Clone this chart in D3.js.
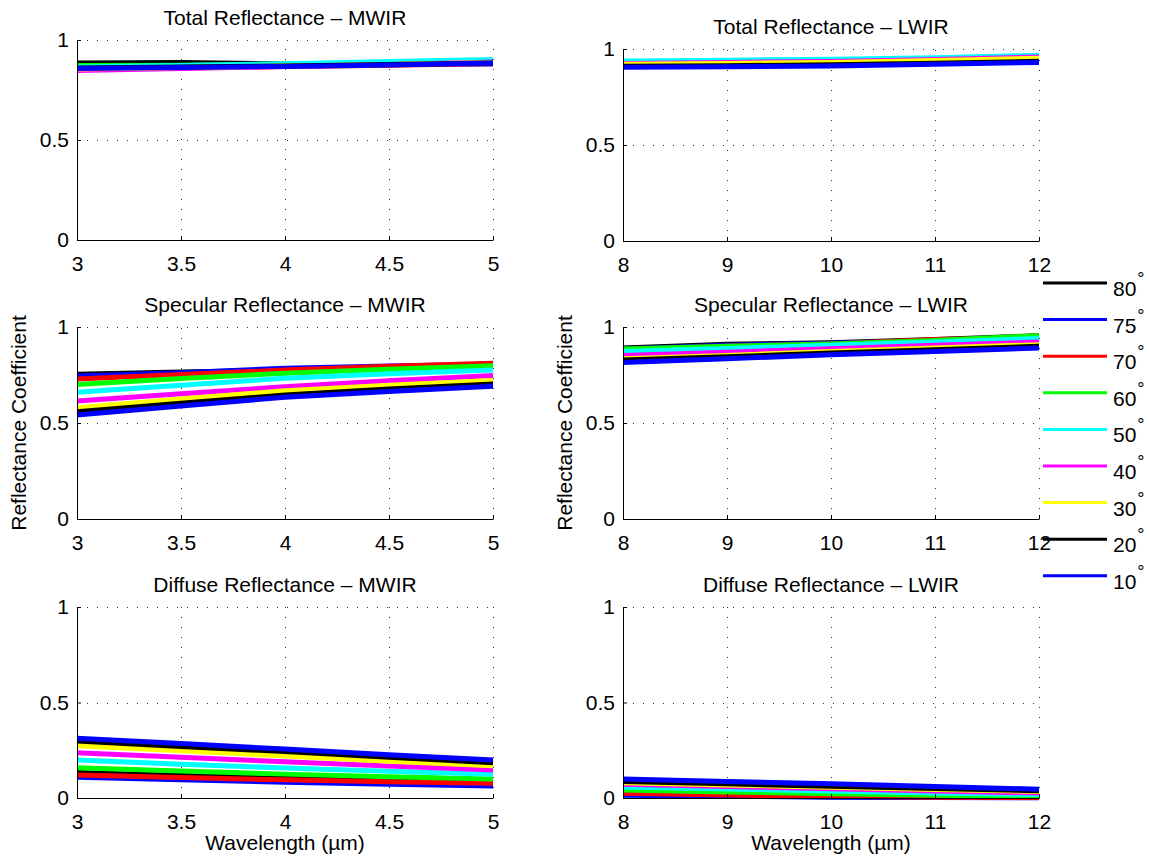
<!DOCTYPE html>
<html><head><meta charset="utf-8">
<script src="https://cdn.jsdelivr.net/npm/d3@7"></script>
<style>
body{margin:0;background:#fff;}
text{font-family:"Liberation Sans",Arial,Helvetica,sans-serif;fill:#000;}
</style>
</head><body>
<svg id="c" width="1149" height="860"></svg>
<script>
// ---------------- data ----------------
const angles = ["80", "75", "70", "60", "50", "40", "30", "20", "10"];
const seriesColors = ["#000000", "#0000ff", "#ff0000", "#00ff00", "#00ffff", "#ff00ff", "#ffff00", "#000000", "#0000ff"];

const mwirWavelength = [3, 3.5, 4, 4.5, 5];
const lwirWavelength = [8, 9, 10, 11, 12];
const mwirTicks = [3, 3.5, 4, 4.5, 5];
const lwirTicks = [8, 9, 10, 11, 12];
const reflTicks = [0, 0.5, 1];

const panelTitles = [
  "Total Reflectance \u2013 MWIR", "Total Reflectance \u2013 LWIR",
  "Specular Reflectance \u2013 MWIR", "Specular Reflectance \u2013 LWIR",
  "Diffuse Reflectance \u2013 MWIR", "Diffuse Reflectance \u2013 LWIR"
];
const xLabel = "Wavelength (\u00b5m)";
const yLabel = "Reflectance Coefficient";

// each row: one series per angle (80,75,70,60,50,40,30,20,10)
const totalMWIR = [
  [0.885, 0.887, 0.880, 0.885, 0.888],
  [0.865, 0.868, 0.873, 0.878, 0.880],
  [0.855, 0.860, 0.868, 0.874, 0.882],
  [0.872, 0.874, 0.879, 0.886, 0.895],
  [0.865, 0.872, 0.881, 0.892, 0.903],
  [0.848, 0.858, 0.868, 0.878, 0.890],
  [0.855, 0.862, 0.870, 0.878, 0.887],
  [0.860, 0.865, 0.870, 0.877, 0.885],
  [0.857, 0.862, 0.868, 0.875, 0.885]
];
const totalLWIR = [
  [0.925, 0.930, 0.935, 0.945, 0.955],
  [0.915, 0.918, 0.922, 0.930, 0.940],
  [0.912, 0.915, 0.918, 0.925, 0.935],
  [0.930, 0.933, 0.938, 0.947, 0.957],
  [0.938, 0.942, 0.947, 0.955, 0.967],
  [0.925, 0.930, 0.935, 0.945, 0.958],
  [0.920, 0.925, 0.930, 0.940, 0.952],
  [0.910, 0.913, 0.918, 0.926, 0.936],
  [0.905, 0.908, 0.912, 0.920, 0.930]
];
const specularMWIR = [
  [0.754, 0.765, 0.775, 0.790, 0.800],
  [0.745, 0.762, 0.785, 0.797, 0.806],
  [0.729, 0.752, 0.776, 0.795, 0.811],
  [0.701, 0.732, 0.759, 0.780, 0.798],
  [0.660, 0.697, 0.733, 0.756, 0.776],
  [0.614, 0.652, 0.689, 0.720, 0.747],
  [0.580, 0.625, 0.668, 0.697, 0.722],
  [0.559, 0.603, 0.646, 0.677, 0.703],
  [0.542, 0.589, 0.634, 0.664, 0.691]
];
const specularLWIR = [
  [0.890, 0.910, 0.918, 0.935, 0.955],
  [0.885, 0.905, 0.915, 0.930, 0.950],
  [0.880, 0.900, 0.912, 0.935, 0.945],
  [0.885, 0.900, 0.912, 0.930, 0.955],
  [0.872, 0.888, 0.905, 0.922, 0.940],
  [0.852, 0.868, 0.887, 0.905, 0.922],
  [0.835, 0.852, 0.872, 0.890, 0.908],
  [0.828, 0.845, 0.865, 0.882, 0.900],
  [0.815, 0.835, 0.855, 0.873, 0.890]
];
const diffuseMWIR = [
  [0.133, 0.118, 0.105, 0.094, 0.085],
  [0.108, 0.095, 0.083, 0.072, 0.063],
  [0.120, 0.107, 0.095, 0.085, 0.077],
  [0.159, 0.142, 0.125, 0.111, 0.099],
  [0.199, 0.177, 0.157, 0.140, 0.124],
  [0.237, 0.213, 0.190, 0.168, 0.147],
  [0.274, 0.248, 0.220, 0.193, 0.169],
  [0.298, 0.270, 0.243, 0.213, 0.185],
  [0.313, 0.285, 0.256, 0.226, 0.199]
];
const diffuseLWIR = [
  [0.020, 0.012, 0.006, 0.003, 0.002],
  [0.015, 0.009, 0.004, 0.002, 0.001],
  [0.025, 0.016, 0.009, 0.004, 0.002],
  [0.042, 0.032, 0.022, 0.014, 0.008],
  [0.058, 0.047, 0.036, 0.026, 0.018],
  [0.072, 0.060, 0.048, 0.036, 0.026],
  [0.080, 0.068, 0.056, 0.045, 0.034],
  [0.086, 0.074, 0.062, 0.050, 0.038],
  [0.099, 0.087, 0.074, 0.060, 0.046]
];

// ---------------- layout ----------------
const FONT = 21;
const svg = d3.select("#c");
svg.append("rect").attr("width", 1149).attr("height", 860).attr("fill", "#fff");

const colDefs = [
  {x0: 77, x1: 493, domain: [3, 5], ticks: mwirTicks, wl: mwirWavelength},
  {x0: 623, x1: 1039, domain: [8, 12], ticks: lwirTicks, wl: lwirWavelength}
];
const rowDefs = [
  [{y0: 40, y1: 240}, {y0: 49, y1: 241}],
  [{y0: 327, y1: 519}, {y0: 327, y1: 519}],
  [{y0: 607, y1: 798}, {y0: 607, y1: 798}]
];
const panelData = [[totalMWIR, totalLWIR], [specularMWIR, specularLWIR], [diffuseMWIR, diffuseLWIR]];

rowDefs.forEach((row, r) => {
  row.forEach((box, c) => {
    const col = colDefs[c];
    const x = d3.scaleLinear().domain(col.domain).range([col.x0, col.x1]);
    const y = d3.scaleLinear().domain([0, 1]).range([box.y1, box.y0]);
    const g = svg.append("g");

    // grid (dotted)
    const grid = g.append("g").attr("stroke", "#333").attr("stroke-width", 1)
      .attr("stroke-dasharray", "1,9").attr("shape-rendering", "crispEdges");
    col.ticks.forEach(t => {
      grid.append("line").attr("x1", Math.round(x(t)) + 0.5).attr("x2", Math.round(x(t)) + 0.5)
        .attr("y1", box.y1).attr("y2", box.y0);
    });
    reflTicks.forEach(t => {
      grid.append("line").attr("y1", Math.round(y(t)) + 0.5).attr("y2", Math.round(y(t)) + 0.5)
        .attr("x1", col.x0).attr("x2", col.x1);
    });

    // series
    const line = d3.line().x((d, i) => x(col.wl[i])).y(d => y(d));
    panelData[r][c].forEach((vals, k) => {
      g.append("path").attr("d", line(vals)).attr("fill", "none")
        .attr("stroke", seriesColors[k]).attr("stroke-width", 5)
        .attr("stroke-linejoin", "round");
    });

    // axes
    const xa = g.append("g").attr("transform", `translate(0,${box.y1})`)
      .call(d3.axisBottom(x).tickValues(col.ticks).tickSizeInner(-4).tickSizeOuter(0)
        .tickPadding(16).tickFormat(d => String(d)));
    const ya = g.append("g").attr("transform", `translate(${col.x0},0)`)
      .call(d3.axisLeft(y).tickValues(reflTicks).tickSizeInner(-4).tickSizeOuter(0)
        .tickPadding(8).tickFormat(d => String(d)));
    [xa, ya].forEach(a => {
      a.selectAll("text").attr("font-size", FONT).attr("font-family", "Liberation Sans, Arial, sans-serif").attr("fill", "#000");
      a.selectAll("path,line").attr("stroke", "#000").attr("stroke-width", 1);
    });

    // title
    g.append("text").attr("x", (col.x0 + col.x1) / 2).attr("y", box.y0 - 15)
      .attr("text-anchor", "middle").attr("font-size", FONT).text(panelTitles[r * 2 + c]);

    if (r === 1) {
      g.append("text").attr("transform", `translate(${col.x0 - 51},${(box.y0 + box.y1) / 2}) rotate(-90)`)
        .attr("text-anchor", "middle").attr("font-size", FONT).text(yLabel);
    }
    if (r === 2) {
      g.append("text").attr("x", (col.x0 + col.x1) / 2).attr("y", box.y1 + 52)
        .attr("text-anchor", "middle").attr("font-size", FONT).text(xLabel);
    }
  });
});

// legend
const legend = svg.append("g");
angles.forEach((a, i) => {
  const ly = 283 + i * 36.6;
  legend.append("line").attr("x1", 1043).attr("x2", 1107).attr("y1", ly).attr("y2", ly)
    .attr("stroke", seriesColors[i]).attr("stroke-width", 3);
  const t = legend.append("text").attr("x", 1113).attr("y", ly + 13).attr("font-size", FONT);
  t.append("tspan").text(a);
  t.append("tspan").attr("font-size", 18).attr("dx", 1).attr("dy", -11).text("\u00b0");
});
</script>
</body></html>
